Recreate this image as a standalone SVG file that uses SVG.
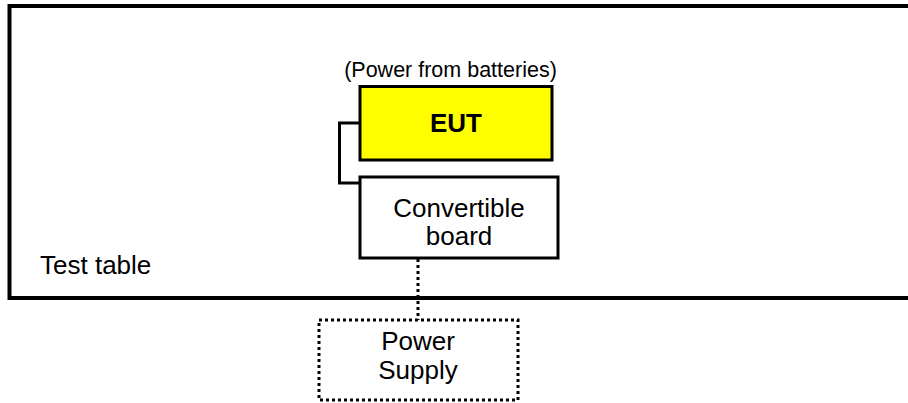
<svg xmlns="http://www.w3.org/2000/svg" width="908" height="403" viewBox="0 0 908 403">
<style>
text{font-family:"Liberation Sans",Arial,sans-serif;fill:#000;text-anchor:middle}
.lbl{font-size:26px}
.box{stroke:#000;stroke-width:3}
.dot{stroke:#000;stroke-width:3;stroke-dasharray:3 3;fill:none}
</style>
<rect width="908" height="403" fill="#fff"/>
<g id="test-table">
<rect x="9.5" y="6" width="910" height="292" fill="none" stroke="#000" stroke-width="4"/>
<text class="lbl" x="40" y="274" style="text-anchor:start">Test table</text>
</g>
<g id="connectors">
<polyline points="360,123 339.5,123 339.5,183 360,183" fill="none" stroke="#000" stroke-width="3"/>
<line x1="418" y1="259" x2="418" y2="320" class="dot"/>
</g>
<g id="eut">
<text x="450.5" y="77" style="font-size:21.5px">(Power from batteries)</text>
<rect x="360" y="86.5" width="192" height="73.5" fill="#ffff00" class="box"/>
<text x="456" y="131.5" style="font-size:26px;font-weight:bold">EUT</text>
</g>
<g id="convertible-board">
<rect x="360" y="177" width="198" height="81" fill="#fff" class="box"/>
<text class="lbl" x="459" y="217">Convertible</text>
<text class="lbl" x="459" y="245">board</text>
</g>
<g id="power-supply">
<rect x="319" y="320" width="199" height="80" fill="#fff" class="dot"/>
<text class="lbl" x="418" y="350">Power</text>
<text class="lbl" x="418" y="379">Supply</text>
</g>
</svg>
